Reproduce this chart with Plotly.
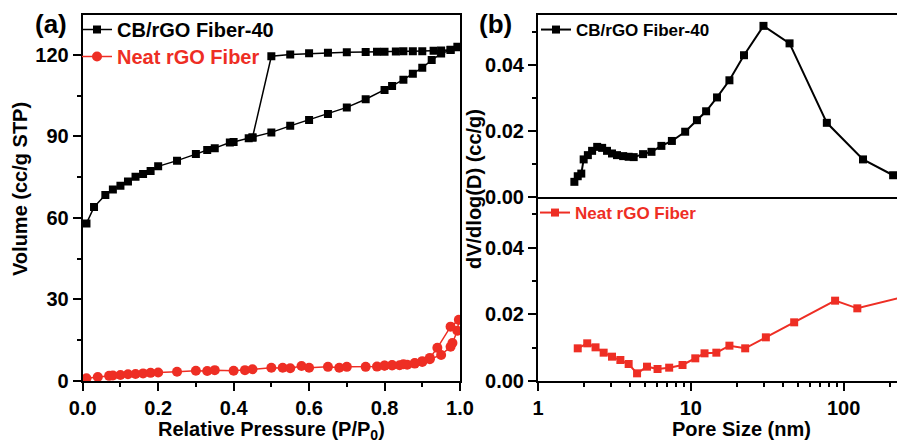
import plotly.graph_objects as go

# page has an 8px body margin; size figure so it exactly fills the 905x440 window
PAGE_W, PAGE_H, OFF = 905, 440, 8
W, H = PAGE_W - OFF, PAGE_H - OFF
BLACK = "#000000"
RED = "#EE2E24"
FONT = "Liberation Sans, Arial, sans-serif"

# ---- (a) N2 isotherms: CB/rGO Fiber-40 (adsorption then desorption) ----
cb_ads_p = [0.01, 0.03, 0.06, 0.08, 0.10, 0.12, 0.14, 0.16, 0.18, 0.20, 0.25, 0.30,
            0.33, 0.35, 0.39, 0.40, 0.44, 0.45, 0.50, 0.55, 0.60, 0.65, 0.70, 0.75,
            0.80, 0.82, 0.85, 0.875, 0.90, 0.925, 0.95, 0.975, 0.993]
cb_ads_v = [58.0, 64.0, 68.5, 70.5, 71.9, 73.4, 75.2, 76.2, 77.3, 79.0, 81.1, 83.5,
            85.0, 85.7, 87.8, 88.0, 89.3, 89.6, 91.5, 93.9, 96.1, 98.3, 100.7, 103.7,
            107.1, 108.6, 110.9, 113.1, 115.3, 118.1, 120.5, 121.8, 123.0]
cb_des_p = [0.995, 0.975, 0.95, 0.93, 0.90, 0.875, 0.85, 0.83, 0.80, 0.78, 0.75,
            0.70, 0.65, 0.60, 0.55, 0.50, 0.45]
cb_des_v = [122.8, 121.9, 121.6, 121.5, 121.4, 121.4, 121.4, 121.3, 121.2, 121.2, 121.1,
            121.0, 120.8, 120.6, 120.2, 119.5, 89.6]

# ---- (a) Neat rGO Fiber (adsorption then desorption) ----
rg_ads_p = [0.01, 0.04, 0.07, 0.08, 0.10, 0.12, 0.14, 0.16, 0.18, 0.20, 0.25, 0.30,
            0.33, 0.35, 0.40, 0.43, 0.45, 0.50, 0.53, 0.55, 0.58, 0.60, 0.65, 0.68,
            0.70, 0.75, 0.78, 0.80, 0.82, 0.84, 0.86, 0.88, 0.90, 0.92, 0.95, 0.975,
            0.98, 0.993, 0.997]
rg_ads_v = [1.0, 1.5, 1.9, 2.0, 2.2, 2.5, 2.6, 2.8, 3.0, 3.1, 3.4, 3.8,
            3.7, 4.0, 3.8, 4.0, 4.3, 4.9, 4.9, 4.7, 5.5, 4.9, 5.2, 4.9,
            5.2, 5.2, 5.3, 5.6, 5.7, 5.8, 6.0, 6.4, 7.0, 8.0, 9.6, 12.6,
            14.0, 18.5, 22.5]
rg_des_p = [0.975, 0.94, 0.92, 0.90, 0.88, 0.85, 0.82, 0.80]
rg_des_v = [20.0, 12.2, 8.5, 7.3, 6.6, 6.2, 5.9, 5.7]

# ---- (b) pore size distributions ----
cb_d = [1.73, 1.82, 1.92, 1.99, 2.12, 2.26, 2.44, 2.63, 2.83, 3.05, 3.29, 3.61, 3.92,
        4.23, 4.87, 5.53, 6.42, 7.52, 9.19, 10.97, 12.6, 14.85, 17.9, 22.3, 29.9,
        44.3, 77.7, 134, 211]
cb_dv = [0.0046, 0.0063, 0.0071, 0.0114, 0.0127, 0.0140, 0.0152, 0.0149, 0.0140,
         0.0132, 0.0127, 0.0124, 0.0122, 0.0121, 0.0130, 0.0137, 0.0155, 0.0170,
         0.0198, 0.0233, 0.0260, 0.0302, 0.0354, 0.0430, 0.0519, 0.0466, 0.0225,
         0.0114, 0.0066]
rg_d = [1.82, 2.10, 2.38, 2.69, 3.05, 3.46, 3.92, 4.45, 5.17, 6.06, 7.22, 8.83,
        10.7, 12.3, 14.7, 17.9, 22.7, 31.0, 47.5, 88, 123, 240]
rg_dv = [0.0098, 0.0113, 0.0101, 0.0085, 0.0073, 0.0063, 0.0051, 0.0023, 0.0043,
         0.0036, 0.0040, 0.0048, 0.0068, 0.0083, 0.0085, 0.0106, 0.0098, 0.0131,
         0.0176, 0.0241, 0.0218, 0.0251]

x_ticks_a = [0.0, 0.2, 0.4, 0.6, 0.8, 1.0]
y_ticks_a = [0, 30, 60, 90, 120]
y_ticks_b = [0.00, 0.02, 0.04]
x_ticks_b = [1, 10, 100]
x_minor_b = [2, 3, 4, 5, 6, 7, 8, 9, 20, 30, 40, 50, 60, 70, 80, 90, 200, 300]


def px(x):
    """page pixel x -> paper fraction"""
    return (x - OFF) / W


def py(y):
    """page pixel y -> paper fraction"""
    return 1 - (y - OFF) / H


fig = go.Figure()

fig.add_trace(go.Scatter(
    x=cb_ads_p + cb_des_p, y=cb_ads_v + cb_des_v, name="CB/rGO Fiber-40",
    mode="lines+markers", line=dict(color=BLACK, width=1.5),
    marker=dict(symbol="square", size=8, color=BLACK),
    xaxis="x", yaxis="y", legend="legend"))
fig.add_trace(go.Scatter(
    x=rg_ads_p + rg_des_p, y=rg_ads_v + rg_des_v, name="Neat rGO Fiber",
    mode="lines+markers", line=dict(color=RED, width=1.5),
    marker=dict(symbol="circle", size=10, color=RED),
    xaxis="x", yaxis="y", legend="legend4"))
fig.add_trace(go.Scatter(
    x=cb_d, y=cb_dv, name="CB/rGO Fiber-40",
    mode="lines+markers", line=dict(color=BLACK, width=2),
    marker=dict(symbol="square", size=8, color=BLACK),
    xaxis="x2", yaxis="y2", legend="legend2"))
fig.add_trace(go.Scatter(
    x=rg_d, y=rg_dv, name="Neat rGO Fiber",
    mode="lines+markers", line=dict(color=RED, width=2),
    marker=dict(symbol="square", size=8, color=RED),
    xaxis="x3", yaxis="y3", legend="legend3"))

tickfont = dict(family=FONT, size=20, color="black", weight="bold")
axcommon = dict(showline=True, linewidth=2, linecolor="black", ticks="outside",
                ticklen=8, tickwidth=2, tickcolor="black", showgrid=False,
                zeroline=False, tickfont=tickfont, automargin=False)

XA = [px(82.7), px(460)]
XB = [px(538), 1.0]
YA = [py(381), py(15)]
YB_top = [py(197), py(15)]
YB_bot = [py(381), py(197)]


def leg(x, y, size, color):
    return dict(x=px(x), y=py(y), xanchor="left", yanchor="top",
                bgcolor="rgba(0,0,0,0)", borderwidth=0, itemwidth=30,
                font=dict(family=FONT, size=size, weight="bold", color=color))


fig.update_layout(
    width=W, height=H,
    margin=dict(l=0, r=0, t=0, b=0),
    paper_bgcolor="white", plot_bgcolor="white",
    font=dict(family=FONT, size=20, color="black", weight="bold"),
    xaxis=dict(domain=XA, range=[0, 1], anchor="y", tickvals=x_ticks_a,
               tickformat=".1f", mirror=True,
               minor=dict(dtick=0.1, ticks="outside", ticklen=4, tickwidth=2,
                          tickcolor="black"),
               **axcommon),
    yaxis=dict(domain=YA, range=[0, 134.7], anchor="x", tickvals=y_ticks_a,
               mirror=True,
               minor=dict(dtick=15, ticks="outside", ticklen=4, tickwidth=2,
                          tickcolor="black"),
               **axcommon),
    xaxis2=dict(domain=XB, type="log", range=[0, 2.402], anchor="y2",
                showline=True, linewidth=2, linecolor="black", mirror=True,
                ticks="", showticklabels=False, showgrid=False, zeroline=False,
                automargin=False),
    yaxis2=dict(domain=YB_top, range=[0, 0.0552], anchor="x2", tickvals=y_ticks_b,
                tickformat=".2f",
                minor=dict(dtick=0.01, ticks="outside", ticklen=4, tickwidth=2,
                           tickcolor="black"),
                **axcommon),
    xaxis3=dict(domain=XB, type="log", range=[0, 2.402], anchor="y3",
                tickvals=x_ticks_b, ticktext=[str(v) for v in x_ticks_b],
                minor=dict(tickvals=x_minor_b, ticks="outside", ticklen=4,
                           tickwidth=2, tickcolor="black"),
                **axcommon),
    yaxis3=dict(domain=YB_bot, range=[0, 0.0552], anchor="x3", tickvals=y_ticks_b,
                tickformat=".2f",
                minor=dict(dtick=0.01, ticks="outside", ticklen=4, tickwidth=2,
                           tickcolor="black"),
                **axcommon),
    legend=leg(77, 10, 20, "black"),
    legend4=leg(77, 37, 20, RED),
    legend2=leg(536, 12, 17, "black"),
    legend3=leg(535, 195, 17, RED),
    showlegend=True,
)


def ann(text, x, y, size=20, angle=0):
    return dict(text=text, x=px(x), y=py(y), xref="paper", yref="paper",
                xanchor="center", yanchor="middle", showarrow=False,
                textangle=angle, font=dict(family=FONT, size=size, weight="bold",
                                           color="black"))


annotations = [
    ann("(a)", 51, 24, 26),
    ann("(b)", 495, 24, 26),
    ann("Volume (cc/g STP)", 20, 189, 20, -90),
    ann("dV/dlog(D) (cc/g)", 474, 189, 20, -90),
    ann("Relative Pressure (P/P<sub>0</sub>)", 271, 430, 20),
    ann("Pore Size (nm)", 741, 429, 20),
]
fig.update_layout(annotations=annotations)

fig.write_html("out.html")
